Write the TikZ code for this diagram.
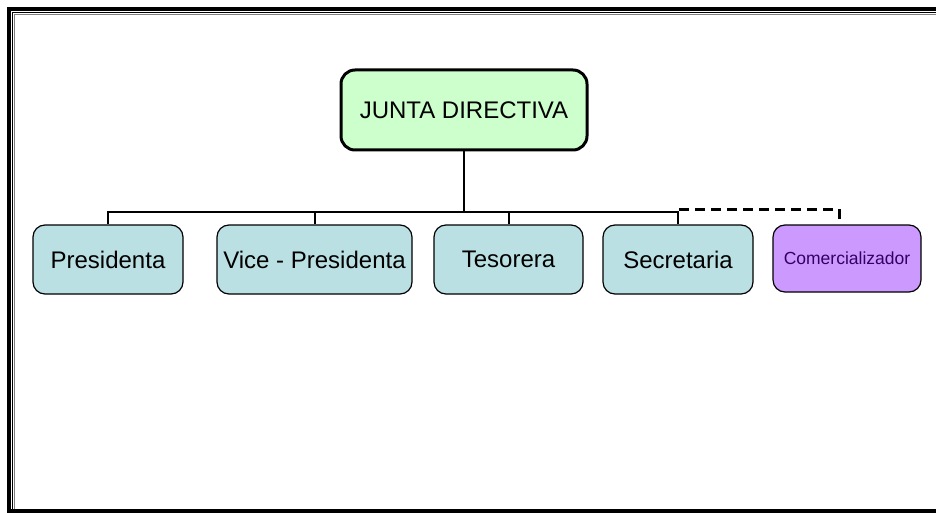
\documentclass[tikz,border=0pt]{standalone}
\usepackage{fontspec}
\setmainfont{Liberation Sans}
\definecolor{tealfill}{RGB}{187,224,227}
\definecolor{greenfill}{RGB}{204,255,204}
\definecolor{purplefill}{RGB}{204,153,255}
\definecolor{purpletext}{RGB}{51,0,102}
\begin{document}
\begin{tikzpicture}[x=1pt,y=-1pt,
  box/.style={draw=black,line width=1.2pt,rounded corners=12pt,inner sep=0pt,
    minimum height=69pt,font=\fontsize{24}{28}\selectfont},
  child/.style={box,fill=tealfill},
  link/.style={draw=black,line width=2pt},
  dashlink/.style={draw=black,line width=3pt,dash pattern=on 10pt off 6pt}]
\useasboundingbox (0,0) rectangle (936,513);
\fill[white] (0,0) rectangle (936,513);
% frame
\draw[line width=4pt] (940,9) -- (9,9) -- (9,511) -- (940,511);
\draw[line width=1.5pt] (940,12.5) -- (12.5,12.5) -- (12.5,509);
\draw[line width=1.5pt,gray] (940,14.5) -- (14.5,14.5) -- (14.5,509);
% nodes
\node[box,fill=greenfill,line width=3pt,rounded corners=14pt,minimum width=246pt,minimum height=80pt] (junta) at (464,110) {JUNTA DIRECTIVA};
\node[child,minimum width=150pt] (pres) at (108,259.5) {Presidenta};
\node[child,minimum width=195pt] (vice) at (314.5,259.5) {Vice - Presidenta};
\node[child,minimum width=149pt] (teso) at (508.5,259.5) {Tesorera};
\node[child,minimum width=150pt] (secr) at (678,259.5) {Secretaria};
\node[box,fill=purplefill,minimum width=148pt,minimum height=67pt,text=purpletext,font=\fontsize{17.5}{20}\selectfont] (comer) at (847,258.5) {Comercializador};
% connectors
\coordinate (bus) at (464,212);
\coordinate (dstart) at (679,209);
\draw[link] (junta.south) -- (bus);
\draw[link] (pres.north) |- (bus) -| (secr.north);
\draw[link] (vice.north) -- (vice.north |- bus);
\draw[link] (teso.north) -- (teso.north |- bus);
\draw[dashlink] (dstart) -| ([xshift=-8pt]comer.north);
\end{tikzpicture}
\end{document}
